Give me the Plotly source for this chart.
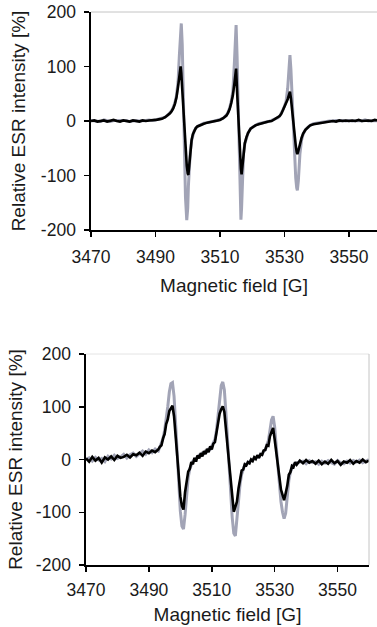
import plotly.graph_objects as go

# ---------------- data ----------------
tick_fields = [3470, 3490, 3510, 3530, 3550]
tick_intensity = [-200, -100, 0, 100, 200]

# top panel
field_top = [
    3470, 3471, 3472, 3473, 3474, 3475, 3476, 3477, 3478, 3479, 3480, 3481, 3482,
    3483, 3484, 3485, 3486, 3487, 3488, 3489, 3490, 3491, 3492, 3493, 3494,
    3494.5, 3495, 3495.5, 3496, 3496.5, 3497, 3497.4, 3497.8, 3498.0, 3498.3,
    3498.6, 3498.8, 3499.0, 3499.3, 3499.7, 3500.0, 3500.2, 3500.5, 3500.8,
    3501.2, 3501.6, 3502, 3502.5, 3503,
    3504, 3505, 3506, 3507, 3508, 3509, 3510, 3511,
    3511.5, 3512, 3512.5, 3513, 3513.5, 3514, 3514.5, 3514.8, 3515.0, 3515.3,
    3515.7, 3516.0, 3516.3, 3516.5, 3516.7, 3517.0, 3517.3, 3517.7, 3518.2,
    3518.7, 3519.5, 3520.3,
    3521, 3522, 3523, 3524, 3525, 3526, 3527, 3528,
    3528.5, 3529, 3529.5, 3530, 3530.5, 3531, 3531.4, 3531.7, 3532.0, 3532.3,
    3532.6, 3532.9, 3533.2, 3533.5, 3533.8, 3534.0, 3534.3, 3534.8, 3535.3,
    3535.8, 3536.5, 3537.4,
    3538, 3539, 3540, 3541, 3542, 3543, 3544, 3545, 3546, 3547, 3548, 3549,
    3550, 3551, 3552, 3553, 3554, 3555, 3556, 3557, 3558, 3559, 3560,
]
top_black = [
    0, 1, -1, 0, 1, -1, 0, 2, 0, -1, 1, 0, -1, 1, 0, -1, 1, 0, 1, 1, 2, 3, 4, 7, 11,
    14, 18, 23, 31, 43, 63, 82, 100, 88, 55, 20, 0, -20, -53, -82, -96, -99, -80,
    -55, -35, -24, -18, -13, -10,
    -7, -5, -3, -2, -1, 0, 2, 5,
    7, 10, 15, 22, 33, 47, 70, 94, 96, 55, 0, -35, -65, -88, -98, -80, -58, -41,
    -30, -22, -14, -10,
    -8, -6, -4, -3, -1, 0, 3, 6,
    9, 13, 19, 25, 32, 40, 48, 54, 42, 22, 5, -12, -30, -45, -57, -61, -55, -41,
    -31, -23, -16, -11,
    -8, -6, -5, -3, -2, -1, -1, 0, -1, 1, 0, 1, 0, 1, 0, 2, 0, 1, 1, 0, 2, 1, 0,
]
top_grey = [
    1, 0, 0, -1, 2, 0, -1, 1, 1, 0, 0, 1, -1, 0, 1, 0, 0, 1, 2, 1, 2, 4, 5, 7, 12,
    15, 19, 25, 33, 46, 72, 120, 172, 179, 140, 60, 0, -60, -140, -182, -160, -120,
    -82, -56, -36, -25, -18, -13, -10,
    -7, -4, -3, -2, 0, 1, 3, 5,
    8, 11, 16, 24, 36, 55, 110, 165, 176, 120, 0, -100, -165, -181, -160, -95,
    -60, -42, -30, -22, -14, -10,
    -8, -5, -4, -2, -1, 1, 3, 6,
    9, 14, 20, 27, 36, 60, 100, 121, 95, 50, 10, -30, -70, -105, -123, -127,
    -110, -60, -35, -24, -16, -11,
    -8, -5, -4, -3, -1, -1, 0, 0, 1, 0, 1, 0, 1, 0, 1, 1, 0, 2, 0, 1, 1, 0, 1,
]

# bottom panel
field_bottom = [
    3470, 3471, 3472, 3473, 3474, 3475, 3476, 3477, 3478, 3479, 3480, 3481,
    3482, 3483, 3484, 3485, 3486, 3487, 3488, 3489, 3490, 3491, 3492, 3493,
    3493.5, 3494, 3494.5, 3495, 3495.5, 3496, 3496.5, 3497, 3497.5, 3498,
    3498.5, 3499, 3499.5, 3500, 3500.5, 3501, 3501.5, 3502, 3502.5, 3503,
    3503.5, 3504, 3504.5, 3505, 3505.5, 3506, 3506.5, 3507, 3507.5, 3508,
    3508.5, 3509, 3509.5, 3510, 3510.5, 3511, 3511.5, 3512, 3512.5, 3513,
    3513.5, 3514, 3514.5, 3515, 3515.5, 3516, 3516.5, 3517, 3517.5, 3518,
    3518.5, 3519, 3519.5, 3520, 3520.5, 3521, 3521.5, 3522, 3522.5, 3523,
    3523.5, 3524, 3524.5, 3525, 3525.5, 3526, 3526.5, 3527, 3527.5, 3528,
    3528.5, 3529, 3529.5, 3530, 3530.5, 3531, 3531.5, 3532, 3532.5, 3533,
    3533.5, 3534, 3534.5, 3535, 3535.5, 3536, 3536.5, 3537,
    3538, 3539, 3540, 3541, 3542, 3543, 3544, 3545, 3546, 3547, 3548, 3549,
    3550, 3551, 3552, 3553, 3554, 3555, 3556, 3557, 3558, 3559, 3560,
]
bottom_black = [
    2, -4, 5, -2, 3, -6, 4, 0, 6, -1, 7, 3, 5, 9, 4, 10, 8, 13, 7, 15, 12, 17, 14, 19,
    24, 27, 40, 48, 67, 76, 92, 97, 102, 82,
    50, 8, -30, -70, -88, -95, -62, -45, -23, -18,
    -5, -9, 3, -4, 8, 2, 12, 6, 16, 10,
    20, 14, 25, 19, 30, 33, 50, 64, 87, 95,
    101, 90, 64, 26, -6, -37, -70, -99, -90, -80,
    -55, -40, -21, -19, -9, -11, -5, -7, 0, -3,
    4, 1, 8, 3, 10, 9, 17, 18, 27, 26,
    44, 52, 60, 38, 14, -16, -36, -57, -67, -77,
    -64, -50, -29, -24, -12, -14, -5, -10,
    -2, -7, -1, -6, -3, -8, -2, -9, -4, -8, -1, -7,
    -3, -10, -4, -6, -1, -8, -3, -6, 0, -5, -2,
]
bottom_grey = [
    0, 3, -3, 4, -1, 2, -4, 6, 1, 8, 2, 5, 10, 3, 9, 12, 6, 11, 16, 10, 18, 13, 20, 16,
    24, 30, 40, 55, 75, 100, 128, 144, 146, 120,
    68, 8, -50, -98, -126, -132, -105, -62, -34, -18,
    -10, -3, -1, 3, 4, 8, 7, 12, 11, 16,
    15, 20, 19, 26, 30, 38, 55, 82, 115, 140,
    147, 132, 88, 36, -15, -62, -110, -140, -145, -112,
    -75, -46, -28, -18, -10, -9, -5, -6, -1, -2,
    3, 2, 6, 5, 10, 9, 16, 18, 26, 36,
    55, 75, 82, 62, 25, -15, -50, -80, -100, -112,
    -102, -68, -40, -24, -15, -10, -8, -6,
    -5, -3, -8, -2, -6, -4, -9, -3, -7, -2, -6, -9,
    -2, -6, -8, -3, -7, -2, -5, -1, -6, -3, 0,
]

assert len(field_top) == len(top_black) == len(top_grey)
assert len(field_bottom) == len(bottom_black) == len(bottom_grey)

# ---------------- styling ----------------
GREY = "#a2a4b6"
BLACK = "#000000"
FONT = "Liberation Sans, Arial, sans-serif"
TXT = "#1a1a1a"
TICK_FS = 17.5
TITLE_FS = 19

fig = go.Figure()
fig.add_trace(go.Scatter(x=field_top, y=top_grey, mode="lines",
                         line=dict(color=GREY, width=3), xaxis="x", yaxis="y"))
fig.add_trace(go.Scatter(x=field_top, y=top_black, mode="lines",
                         line=dict(color=BLACK, width=2.6), xaxis="x", yaxis="y"))
fig.add_trace(go.Scatter(x=field_bottom, y=bottom_grey, mode="lines",
                         line=dict(color=GREY, width=3), xaxis="x2", yaxis="y2"))
fig.add_trace(go.Scatter(x=field_bottom, y=bottom_black, mode="lines",
                         line=dict(color=BLACK, width=2.6), xaxis="x2", yaxis="y2"))

W, H = 377, 627
axis_common = dict(showline=True, linecolor="#000", linewidth=1.6, ticks="outside",
                   ticklen=5, tickwidth=1.5, tickcolor="#000", showgrid=False,
                   zeroline=False, automargin=False,
                   tickfont=dict(family=FONT, size=TICK_FS, color=TXT))
title_font = dict(family=FONT, size=TITLE_FS, color=TXT)

fig.update_layout(
    width=W, height=H, margin=dict(l=0, r=0, t=0, b=0, autoexpand=False),
    paper_bgcolor="white", plot_bgcolor="white", showlegend=False,
    font=dict(family=FONT, size=TICK_FS, color=TXT),
    xaxis=dict(domain=[91 / W, 1.0], range=[3470, 3558.7], anchor="y",
               tickvals=tick_fields, ticktext=[str(v) for v in tick_fields],
               ticklabelstandoff=5,
               title=dict(text="Magnetic field [G]", standoff=13, font=title_font),
               **axis_common),
    yaxis=dict(domain=[1 - 230 / H, 1 - 12 / H], range=[-200, 200], anchor="x",
               tickvals=tick_intensity, ticktext=[str(v) for v in tick_intensity],
               ticklabelstandoff=5,
               title=dict(text="Relative ESR intensity [%]", standoff=10, font=title_font),
               **axis_common),
    xaxis2=dict(domain=[86 / W, 369 / W], range=[3470, 3560], anchor="y2",
                tickvals=tick_fields, ticktext=[str(v) for v in tick_fields],
                ticklabelstandoff=3,
                title=dict(text="Magnetic field [G]", standoff=9, font=title_font),
                **axis_common),
    yaxis2=dict(domain=[1 - 565 / H, 1 - 354 / H], range=[-200, 200], anchor="x2",
                tickvals=tick_intensity, ticktext=[str(v) for v in tick_intensity],
                ticklabelstandoff=5,
                title=dict(text="Relative ESR intensity [%]", standoff=8, font=title_font),
                **axis_common),
    shapes=[
        dict(type="line", xref="x domain", yref="y domain", x0=0, x1=1, y0=1, y1=1,
             line=dict(color="#c4c4c4", width=1)),
        dict(type="line", xref="x2 domain", yref="y2 domain", x0=0, x1=1, y0=1, y1=1,
             line=dict(color="#e4e4e4", width=1)),
        dict(type="line", xref="x2 domain", yref="y2 domain", x0=1, x1=1, y0=0, y1=1,
             line=dict(color="#c4c4c4", width=1)),
    ],
)

fig.write_html("out.html", config={"displayModeBar": False, "staticPlot": True},
               post_script="document.body.style.margin='0';document.body.style.padding='0';")
